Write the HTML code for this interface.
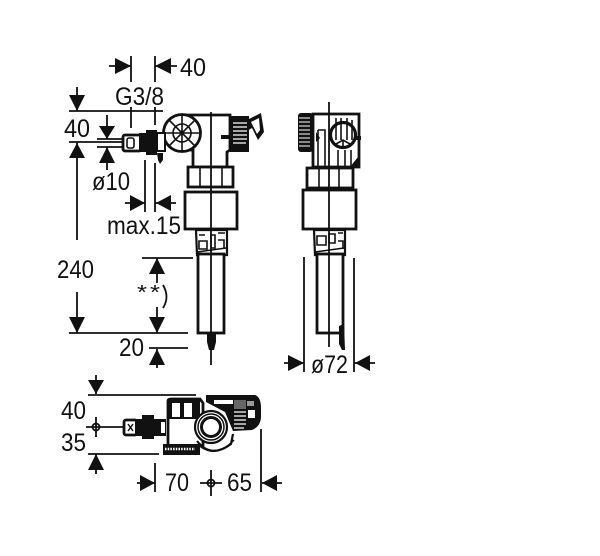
<!DOCTYPE html>
<html><head><meta charset="utf-8">
<style>
html,body{margin:0;padding:0;background:#fff;width:600px;height:556px;overflow:hidden}
svg{display:block}
text{font-family:"Liberation Sans Narrow","Liberation Sans",sans-serif;font-size:25px;fill:#111}
.d{stroke:#111;stroke-width:1.8;fill:none}
.o{stroke:#111;stroke-width:2.8;fill:#fff}
.t{stroke:#111;stroke-width:1.6;fill:none}
.k{fill:#111;stroke:none}
</style></head><body>
<svg width="600" height="556" viewBox="0 0 600 556" xmlns="http://www.w3.org/2000/svg">
<rect width="600" height="556" fill="#fff"/>

<!-- Top dimension 40 -->
<path class="d" d="M109 66H131M131 56V82M155 56V82M155 66H177"/>
<path class="k" d="M131 66L115 58V74ZM155 66L171 58V74Z"/>
<text x="180" y="76" textLength="26" lengthAdjust="spacingAndGlyphs">40</text>
<text x="115" y="105" textLength="49" lengthAdjust="spacingAndGlyphs">G3/8</text>

<!-- Left dimensions -->
<path class="d" d="M69 111H163M77 87V111M69 142H122M77 142V240M131 107V128M155 107V125M107 115V139M97 139H122M97 147H122M107 147V170"/>
<path class="k" d="M77 111L69 95H85ZM77 143L69 158H85ZM107 139L99 126H115ZM107 147L99 163H115Z"/>
<text x="64" y="137" textLength="26" lengthAdjust="spacingAndGlyphs">40</text>
<text x="92" y="190" textLength="38" lengthAdjust="spacingAndGlyphs">ø10</text>
<path class="d" d="M145 160V212M155 163V212M125 203H145M155 203H176"/>
<path class="k" d="M145 203L130 195V211ZM156 203L171 195V211Z"/>
<text x="107" y="234" textLength="74" lengthAdjust="spacingAndGlyphs">max.15</text>
<path class="d" d="M77 292V333M69 333H188M142 258H193M157 258V283M157 307V333M149 348H188M157 349V368"/>
<path class="k" d="M77 333L69 317H85ZM157 258L149 274H165ZM157 333L149 317H165ZM157 349L149 365H165Z"/>
<text x="57" y="278" textLength="37" lengthAdjust="spacingAndGlyphs">240</text>
<text x="137" y="299" style="font-size:20px" textLength="10" lengthAdjust="spacingAndGlyphs">*</text>
<text x="150" y="299" style="font-size:20px" textLength="10" lengthAdjust="spacingAndGlyphs">*</text>
<path class="d" d="M163 285Q170 297 163 308"/>
<text x="119" y="356" textLength="25" lengthAdjust="spacingAndGlyphs">20</text>

<!-- Front view -->
<path class="o" d="M193 115H230V150L227 152V167H193V150H186V115Z"/>
<rect class="o" x="188" y="167" width="45" height="20"/>
<path class="t" d="M200 168V186M222 168V186"/>
<rect class="o" x="185" y="192" width="52" height="37"/>
<path class="o" d="M196 230H227V255H197Z" style="stroke-width:2.2"/>
<path class="t" d="M199 235H205M199 241H207V249H199ZM211 235V248H215V235ZM218 233H225M218 240H224V248M197 252L226 248" />
<rect x="198" y="254" width="26" height="79" fill="#fff" stroke="#111" stroke-width="2.8"/>
<path class="k" d="M207 333H216V342L214 350H209L207 342Z"/>
<circle cx="182" cy="133" r="18.5" fill="#fff" stroke="#111" stroke-width="2.8"/>
<circle cx="182" cy="133" r="9" class="t"/>
<path class="t" d="M182 115V151M164 133H200M169 120L195 146M195 120L169 146"/>
<circle cx="182" cy="133" r="2.5" class="k"/>
<path class="d" d="M211 112V365"/>
<!-- front knob and latch -->
<rect class="k" x="230" y="116" width="19" height="36"/>
<path d="M233 123H247M233 127H247M233 131H247M233 135H247M233 139H247M233 143H246" stroke="#fff" stroke-width="1.2"/>
<path class="k" d="M247 120L261 113L264 132L258 140L252 128L247 131Z"/>
<path d="M251 122L259 118L260 130L257 134Z" fill="#fff"/>
<path class="k" d="M221 135H231V139H221Z"/>
<!-- front connector -->
<rect x="123" y="135" width="18" height="16" rx="2" fill="#fff" stroke="#111" stroke-width="2.8"/>
<rect x="127" y="138" width="7" height="10" rx="2" fill="#fff" stroke="#111" stroke-width="1.6"/>
<path class="k" d="M139 133H146V130H157V155H146V152H139Z"/>
<path class="o" d="M157 133H165V151H157Z" style="stroke-width:2"/>
<path class="k" d="M157 153H163V160L160 164L158 160Z"/>

<!-- Side view -->
<path class="o" d="M313 114H359V167H313Z"/>
<rect class="k" x="298" y="113" width="15" height="39" rx="3"/>
<path d="M299 118H310M299 122H310M299 126H310M299 130H310M299 134H310M299 138H310M299 142H310M299 146H310" stroke="#fff" stroke-width="1"/>
<path class="t" d="M318 130H325V167M318 130V167M338 150V167M345 150V167M351 150V167"/>
<path class="k" d="M316 132L320 138L316 142Z"/>
<circle cx="343" cy="135" r="12.5" fill="#fff" stroke="#111" stroke-width="3.2"/>
<path class="t" d="M336 118V140M341 118V140M347 118V140M352 120V140M343 140V147M336 144L343 140L350 144"/>
<path class="k" d="M356 136H361V140H356ZM350 167L358 157V167Z"/>
<rect class="o" x="307" y="168" width="46" height="20"/>
<path class="t" d="M319 169V187M339 169V187"/>
<rect class="o" x="303" y="190" width="53" height="39"/>
<path class="o" d="M314 230H345V255H315Z" style="stroke-width:2.2"/>
<path class="t" d="M317 236H326V245H317ZM329 234H335V243H329ZM338 233H343M338 241H343V249M315 252L344 248"/>
<rect x="317" y="254" width="26" height="79" fill="#fff" stroke="#111" stroke-width="2.8"/>
<path class="k" d="M339 326L344 324L345 350H342L339 344Z"/>
<path class="d" d="M329 102V347M304 257V372M354 258V372M284 363H304M354 363H375"/>
<path class="k" d="M304 363L288 355V371ZM355 363L370 355V371Z"/>
<text x="311" y="373" textLength="37" lengthAdjust="spacingAndGlyphs">ø72</text>

<!-- Bottom view -->
<path class="d" d="M96 375V394M88 395H196M88 454H159M96 454V474M96 417V437M86 427H123"/>
<circle class="d" cx="96" cy="427" r="3.5"/>
<path class="k" d="M96 394L88 380H104ZM96 454L88 470H104Z"/>
<text x="61" y="419" textLength="25" lengthAdjust="spacingAndGlyphs">40</text>
<text x="61" y="451" textLength="25" lengthAdjust="spacingAndGlyphs">35</text>
<!-- left housing -->
<path d="M168 401Q168 399 171 399H200L203 403V446H168Z" fill="#fff" stroke="#111" stroke-width="2.8"/>
<path class="k" d="M168 399H200V419H168Z"/>
<path d="M172 403H180V417H172ZM184 403H192V417H184Z" fill="#fff"/>
<path class="k" d="M163 444H200V455H163Z"/>
<path d="M165 449H195" stroke="#fff" stroke-width="2.5" stroke-dasharray="1.5 1.2"/>
<!-- right housing -->
<path class="k" d="M206 395H255Q261 397 261 408V418Q260 427 252 430L233 431L225 412L206 402Z"/>
<path d="M214 400H233V404H214Z" fill="#fff"/>
<rect x="234" y="400" width="12" height="9" fill="#666"/>
<path d="M234 412H246M234 416H246M234 420H246M234 424H246M234 428H244" stroke="#fff" stroke-width="1.3"/>
<rect x="248" y="410" width="7" height="8" fill="#fff"/>
<rect x="247" y="401" width="7" height="5" fill="#999"/>
<!-- crescent -->
<path d="M197 441Q211 459 231 444L233 434" fill="none" stroke="#111" stroke-width="2.2"/>
<path d="M201 447Q217 458 234 440" fill="none" stroke="#111" stroke-width="1.6"/>
<!-- circle -->
<circle cx="211" cy="427" r="16" fill="#fff" stroke="#111" stroke-width="2.2"/>
<circle cx="211" cy="427" r="13" fill="#fff" stroke="#111" stroke-width="1.5"/>
<circle cx="211" cy="427" r="9.5" fill="#fff" stroke="#111" stroke-width="3"/>
<!-- bottom connector -->
<rect x="124" y="420" width="13" height="15" rx="2" fill="#fff" stroke="#111" stroke-width="2.8"/>
<path class="k" d="M135 419H142V415H154V419H166V436H154V439H142V436H135Z"/>
<path d="M161 422H165V433H161Z" fill="#fff"/>
<path d="M128 424L133 431M133 424L128 431" stroke="#111" stroke-width="1.5"/>

<path class="d" d="M155 463V492M137 483H155M261 429V492M262 483H282M211 470V496M200 483H222"/>
<circle class="d" cx="211" cy="483" r="3.5"/>
<path class="k" d="M155 483L140 475V491ZM262 483L277 475V491Z"/>
<text x="165" y="491" textLength="24" lengthAdjust="spacingAndGlyphs">70</text>
<text x="227" y="491" textLength="25" lengthAdjust="spacingAndGlyphs">65</text>
</svg>
</body></html>
